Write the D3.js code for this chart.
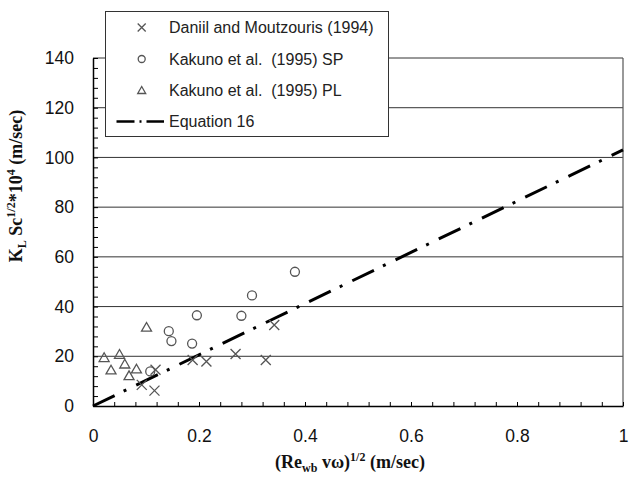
<!DOCTYPE html>
<html>
<head>
<meta charset="utf-8">
<script src="https://cdn.jsdelivr.net/npm/d3@7"></script>
<style>
  body { margin: 0; background: #fff; }
  svg { display: block; }
</style>
</head>
<body>
<div id="chart"></div>
<script>
// Data
var daniilX = [0.092, 0.116, 0.118, 0.188, 0.214, 0.269, 0.326, 0.342];
var daniilY = [8.5, 6.2, 14.6, 18.5, 17.9, 20.9, 18.5, 32.6];

var spX = [0.108, 0.143, 0.148, 0.187, 0.196, 0.280, 0.300, 0.381];
var spY = [13.9, 30.1, 26.1, 25.1, 36.5, 36.3, 44.5, 54.0];

var plX = [0.021, 0.034, 0.050, 0.060, 0.068, 0.082, 0.101];
var plY = [19.4, 14.4, 20.7, 16.8, 12.1, 14.8, 31.6];

// Equation 16 end points
var eqX = [0, 1];
var eqY = [0, 103];

var xTicks = [0, 0.2, 0.4, 0.6, 0.8, 1];
var yTicks = [0, 20, 40, 60, 80, 100, 120, 140];

var legendLabels = ["Daniil and Moutzouris (1994)", "Kakuno et al.  (1995) SP",
                    "Kakuno et al.  (1995) PL", "Equation 16"];

var svgWidth = 629;
var svgHeight = 484;

var margin = { top: 58, right: 6, bottom: 78, left: 93 };
var chartWidth = svgWidth - margin.left - margin.right;   // 530
var chartHeight = svgHeight - margin.top - margin.bottom; // 348

var sans = "'Liberation Sans', Arial, sans-serif";
var serif = "'Liberation Serif', 'Times New Roman', serif";
var markColor = "#555";

var svg = d3.select("#chart")
    .append("svg")
    .attr("width", svgWidth)
    .attr("height", svgHeight);

var chartGroup = svg.append("g")
    .attr("transform", `translate(${margin.left}, ${margin.top})`);

var xScale = d3.scaleLinear().domain([0, 1]).range([0, chartWidth]);
var yScale = d3.scaleLinear().domain([0, 140]).range([chartHeight, 0]);

// Horizontal gridlines
chartGroup.append("g")
    .selectAll("line")
    .data(yTicks.slice(1))
    .enter()
    .append("line")
    .attr("x1", 0)
    .attr("x2", chartWidth)
    .attr("y1", d => yScale(d))
    .attr("y2", d => yScale(d))
    .attr("stroke", "#333")
    .attr("stroke-width", 1);

// Right border
chartGroup.append("line")
    .attr("x1", chartWidth).attr("x2", chartWidth)
    .attr("y1", 0).attr("y2", chartHeight)
    .attr("stroke", "#555")
    .attr("stroke-width", 1.2);

// Minor ticks (pointing inward)
var xMinor = d3.axisBottom(xScale)
    .tickValues(d3.range(0, 1.0001, 0.04))
    .tickFormat("")
    .tickSizeInner(-4)
    .tickSizeOuter(0);
chartGroup.append("g")
    .attr("transform", "translate(0," + chartHeight + ")")
    .call(xMinor)
    .call(g => g.select(".domain").attr("stroke", "#000").attr("stroke-width", 1.5));

var yMinor = d3.axisLeft(yScale)
    .tickValues(d3.range(0, 140.001, 4))
    .tickFormat("")
    .tickSizeInner(-5)
    .tickSizeOuter(0);
chartGroup.append("g")
    .call(yMinor)
    .call(g => g.select(".domain").attr("stroke", "#000").attr("stroke-width", 1.5));

// Tick labels
var xLabels = d3.axisBottom(xScale)
    .tickValues(xTicks)
    .tickFormat(d3.format("~g"))
    .tickSize(0)
    .tickPadding(24);
chartGroup.append("g")
    .attr("transform", "translate(0," + chartHeight + ")")
    .call(xLabels)
    .call(g => g.select(".domain").remove())
    .selectAll("text")
    .attr("font-family", sans)
    .attr("font-size", 17.5)
    .attr("fill", "#111");

var yLabels = d3.axisLeft(yScale)
    .tickValues(yTicks)
    .tickSize(0)
    .tickPadding(19);
chartGroup.append("g")
    .call(yLabels)
    .call(g => g.select(".domain").remove())
    .selectAll("text")
    .attr("font-family", sans)
    .attr("font-size", 17.5)
    .attr("fill", "#111");

// Equation 16 line
var eqLine = d3.line()
    .x(d => xScale(d[0]))
    .y(d => yScale(d[1]));

chartGroup.append("path")
    .datum(d3.zip(eqX, eqY))
    .attr("d", eqLine)
    .attr("fill", "none")
    .attr("stroke", "#000")
    .attr("stroke-width", 3)
    .attr("stroke-dasharray", "24,10,3,11");

// Marker drawing helpers
function drawCross(g, cx, cy, s) {
    g.append("path")
        .attr("d", `M${cx - s},${cy - s}L${cx + s},${cy + s}M${cx - s},${cy + s}L${cx + s},${cy - s}`)
        .attr("stroke", markColor)
        .attr("stroke-width", 1.3)
        .attr("fill", "none");
}
function drawCircle(g, cx, cy, r) {
    g.append("circle")
        .attr("cx", cx).attr("cy", cy).attr("r", r)
        .attr("stroke", markColor)
        .attr("stroke-width", 1.3)
        .attr("fill", "none");
}
function drawTriangle(g, cx, cy, s) {
    g.append("path")
        .attr("d", `M${cx},${cy - s}L${cx + s},${cy + s * 0.75}L${cx - s},${cy + s * 0.75}Z`)
        .attr("stroke", markColor)
        .attr("stroke-width", 1.3)
        .attr("fill", "none");
}

var pointGroup = chartGroup.append("g");
d3.zip(daniilX, daniilY).forEach(d => drawCross(pointGroup, xScale(d[0]), yScale(d[1]), 5));
d3.zip(spX, spY).forEach(d => drawCircle(pointGroup, xScale(d[0]), yScale(d[1]), 4.5));
d3.zip(plX, plY).forEach(d => drawTriangle(pointGroup, xScale(d[0]), yScale(d[1]), 5));

// Legend
var legend = svg.append("g");
legend.append("rect")
    .attr("x", 105.5)
    .attr("y", 11.5)
    .attr("width", 283)
    .attr("height", 125)
    .attr("fill", "#fff")
    .attr("stroke", "#333")
    .attr("stroke-width", 1);

var rowY = [27.5, 59, 90.5, 121.5];
drawCross(legend, 141.7, rowY[0], 4);
drawCircle(legend, 141.7, rowY[1], 3.5);
drawTriangle(legend, 141.7, rowY[2], 4);
legend.append("line")
    .attr("x1", 116.5).attr("x2", 164)
    .attr("y1", rowY[3]).attr("y2", rowY[3])
    .attr("stroke", "#000")
    .attr("stroke-width", 2.5)
    .attr("stroke-dasharray", "18,5,2,5,18,100");

legend.selectAll("text")
    .data(legendLabels)
    .enter()
    .append("text")
    .attr("x", 169)
    .attr("y", (d, i) => rowY[i])
    .attr("dy", "0.35em")
    .attr("font-family", sans)
    .attr("font-size", 16)
    .attr("fill", "#222")
    .attr("xml:space", "preserve")
    .style("white-space", "pre")
    .text(d => d);

// X axis title
var xTitle = svg.append("text")
    .attr("x", 350)
    .attr("y", 468)
    .attr("text-anchor", "middle")
    .attr("font-family", serif)
    .attr("font-weight", "bold")
    .attr("font-size", 18)
    .attr("fill", "#111");
xTitle.append("tspan").text("(Re");
xTitle.append("tspan").attr("dy", 4).attr("font-size", 12).text("wb");
xTitle.append("tspan").attr("dy", -4).text(" v\u03c9)");
xTitle.append("tspan").attr("dy", -7).attr("font-size", 12).text("1/2");
xTitle.append("tspan").attr("dy", 7).text(" (m/sec)");

// Y axis title
var yTitle = svg.append("text")
    .attr("transform", "translate(22, 186) rotate(-90)")
    .attr("text-anchor", "middle")
    .attr("font-family", serif)
    .attr("font-weight", "bold")
    .attr("font-size", 18)
    .attr("fill", "#111");
yTitle.append("tspan").text("K");
yTitle.append("tspan").attr("dy", 4).attr("font-size", 12).text("L");
yTitle.append("tspan").attr("dy", -4).text(" Sc");
yTitle.append("tspan").attr("dy", -7).attr("font-size", 12).text("1/2");
yTitle.append("tspan").attr("dy", 7).text("*10");
yTitle.append("tspan").attr("dy", -7).attr("font-size", 12).text("4");
yTitle.append("tspan").attr("dy", 7).text(" (m/sec)");
</script>
</body>
</html>
